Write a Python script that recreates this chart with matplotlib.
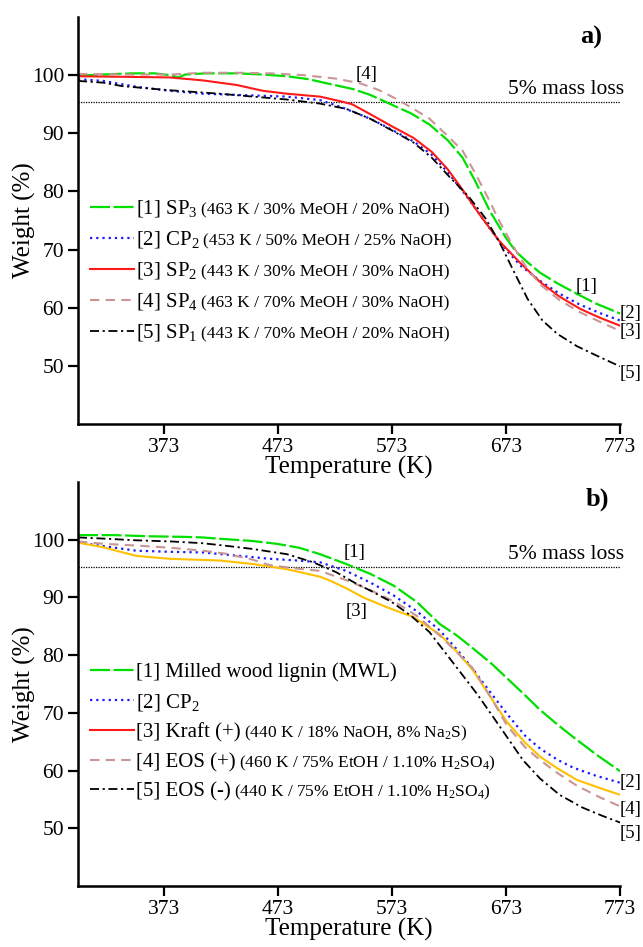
import matplotlib
matplotlib.use("Agg")
import matplotlib.pyplot as plt
from matplotlib.lines import Line2D

plt.rcParams['font.family'] = ['Liberation Serif', 'DejaVu Serif']
plt.rcParams['mathtext.fontset'] = 'custom'
plt.rcParams['mathtext.rm'] = 'Liberation Serif'
plt.rcParams['mathtext.it'] = 'Liberation Serif:italic'

# ---- panel a) data ----
T_sp3 = [298, 320, 345, 365, 378, 386, 392, 410, 437, 460, 481, 500, 518, 539, 554, 563, 573, 590, 606, 622, 635, 646, 659, 673, 682, 692, 703, 718, 735, 752, 773]
W_sp3 = [99.9, 100.1, 100.3, 100.3, 100.0, 99.6, 100.1, 100.3, 100.3, 100.1, 99.8, 99.3, 98.5, 97.6, 96.6, 95.8, 94.9, 93.4, 91.5, 88.8, 85.8, 81.8, 76.6, 72.0, 69.6, 67.8, 66.0, 64.2, 62.4, 60.7, 59.0]

T_cp2a = [298, 320, 349, 378, 407, 451, 481, 510, 530, 554, 573, 592, 608, 622, 636, 648, 660, 673, 686, 703, 720, 737, 755, 773]
W_cp2a = [99.3, 99.0, 98.0, 97.3, 96.8, 96.5, 96.3, 95.7, 94.4, 92.5, 90.6, 88.6, 86.3, 83.3, 79.8, 76.6, 73.3, 70.0, 67.2, 64.6, 62.4, 60.6, 59.1, 57.8]

T_sp2 = [298, 340, 378, 407, 437, 460, 481, 510, 528, 538, 553, 573, 592, 608, 622, 636, 650, 667, 685, 703, 720, 738, 755, 773]
W_sp2 = [99.8, 99.7, 99.6, 99.1, 98.3, 97.3, 96.8, 96.3, 95.5, 95.0, 93.4, 91.2, 89.2, 86.8, 83.8, 80.0, 76.0, 71.5, 67.8, 64.4, 61.9, 59.8, 58.3, 56.9]

T_sp4 = [298, 340, 380, 407, 440, 466, 495, 524, 545, 562, 577, 592, 606, 620, 635, 647, 658, 668, 678, 690, 703, 720, 737, 755, 773]
W_sp4 = [100.2, 100.1, 100.1, 100.4, 100.4, 100.3, 100.0, 99.4, 98.6, 97.4, 95.9, 94.2, 92.5, 89.9, 87.0, 82.8, 78.6, 74.6, 71.0, 67.2, 64.0, 61.3, 59.3, 57.6, 56.0]

T_sp1 = [298, 320, 337, 378, 422, 481, 510, 533, 554, 573, 592, 608, 624, 640, 655, 668, 680, 692, 705, 718, 735, 752, 773]
W_sp1 = [99.0, 98.7, 98.1, 97.4, 96.8, 95.8, 95.1, 94.2, 92.5, 90.5, 88.4, 85.8, 82.4, 79.2, 75.4, 71.0, 66.2, 61.5, 57.8, 55.5, 53.4, 51.8, 49.9]

# ---- panel b) data ----
T_mwl = [298, 330, 360, 390, 407, 427, 450, 472, 492, 510, 533, 554, 575, 595, 615, 630, 644, 660, 674, 690, 703, 718, 732, 752, 773]
W_mwl = [100.8, 100.8, 100.6, 100.5, 100.4, 100.1, 99.8, 99.3, 98.6, 97.5, 95.8, 94.1, 92.0, 89.2, 85.4, 83.4, 81.2, 78.6, 76.0, 73.0, 70.5, 68.0, 65.8, 62.8, 59.9]

T_cp2b = [298, 320, 349, 380, 407, 440, 466, 490, 510, 533, 554, 575, 595, 615, 630, 644, 660, 674, 690, 703, 718, 732, 752, 773]
W_cp2b = [99.5, 98.9, 98.1, 97.9, 97.8, 97.2, 96.7, 96.4, 96.1, 94.6, 92.6, 90.3, 87.6, 84.3, 81.0, 77.6, 73.4, 69.8, 66.0, 63.8, 61.9, 60.5, 59.1, 57.9]

T_kraft = [298, 320, 349, 378, 422, 451, 481, 510, 519, 533, 548, 570, 592, 615, 630, 644, 660, 674, 690, 703, 718, 735, 755, 773]
W_kraft = [99.5, 98.7, 97.2, 96.7, 96.4, 95.8, 94.9, 93.6, 92.9, 91.6, 90.0, 88.2, 86.6, 83.6, 80.6, 77.4, 72.6, 68.4, 64.8, 62.4, 60.4, 58.4, 57.0, 55.8]

T_eosp = [298, 320, 349, 380, 407, 427, 450, 466, 490, 510, 533, 554, 575, 595, 615, 630, 644, 660, 674, 690, 703, 718, 735, 755, 773]
W_eosp = [99.7, 99.3, 99.0, 98.6, 98.1, 97.6, 96.6, 95.6, 95.0, 94.6, 93.0, 91.3, 89.3, 86.8, 83.4, 80.5, 77.7, 72.6, 67.8, 64.0, 61.8, 59.6, 57.4, 55.4, 53.8]

T_eosm = [298, 320, 349, 380, 407, 430, 451, 481, 504, 524, 540, 554, 573, 590, 606, 620, 634, 648, 660, 674, 688, 703, 720, 740, 757, 773]
W_eosm = [100.4, 100.2, 99.9, 99.7, 99.4, 98.9, 98.4, 97.5, 96.1, 94.4, 92.6, 91.2, 89.2, 86.8, 84.0, 80.4, 76.8, 73.2, 69.8, 65.8, 61.8, 58.6, 55.8, 53.6, 52.2, 51.0]

labels_a = [r'[1] SP$_3$', r'[2] CP$_2$', r'[3] SP$_2$', r'[4] SP$_4$', r'[5] SP$_1$']
notes_a = ['(463 K / 30% MeOH / 20% NaOH)', '(453 K / 50% MeOH / 25% NaOH)',
           '(443 K / 30% MeOH / 30% NaOH)', '(463 K / 70% MeOH / 30% NaOH)',
           '(443 K / 70% MeOH / 20% NaOH)']
labels_b = ['[1] Milled wood lignin (MWL)', r'[2] CP$_2$', '[3] Kraft (+)', '[4] EOS (+)', '[5] EOS (-)']
notes_b = ['', '', r'(440 K / 18% NaOH, 8% Na$_2$S)',
           r'(460 K / 75% EtOH / 1.10% H$_2$SO$_4$)',
           r'(440 K / 75% EtOH / 1.10% H$_2$SO$_4$)']

xticks = [373, 473, 573, 673, 773]
yticks = [50, 60, 70, 80, 90, 100]

GREEN = '#00e000'
BLUE = '#1a1aff'
RED = '#ff1a1a'
ROSY = '#c99595'
ORANGE = '#ffc000'
styles = [
    dict(color=GREEN, lw=1.6, ls=(0, (9, 1.6))),
    dict(color=BLUE, lw=1.6, ls=(0, (1, 1.8))),
    dict(color=RED, lw=1.5, ls='-'),
    dict(color=ROSY, lw=1.5, ls=(0, (4.5, 3))),
    dict(color='black', lw=1.3, ls=(0, (5, 2, 1.2, 2))),
]

fig = plt.figure(figsize=(6.43, 9.47), dpi=100)
ax_a = fig.add_axes([0.1213, 0.5523, 0.843, 0.4298])
ax_b = fig.add_axes([0.1213, 0.0644, 0.843, 0.4266])


def style_axes(ax):
    ax.set_xlim(298, 773)
    ax.set_ylim(40, 110)
    for s in ['top', 'right']:
        ax.spines[s].set_visible(False)
    for s in ['left', 'bottom']:
        ax.spines[s].set_linewidth(1.8)
    ax.set_xticks(xticks)
    ax.set_yticks(yticks)
    ax.tick_params(direction='out', length=7, width=1.6, labelsize=15.5, pad=3)
    ax.set_xlabel('Temperature (K)', fontsize=18, labelpad=-1)
    ax.set_ylabel('Weight (%)', fontsize=18, labelpad=-3)
    ax.axhline(95.3, color='black', lw=0.9, ls=(0, (1, 1)), zorder=1)
    ax.text(777, 97.5, '5% mass loss', fontsize=15.5, ha='right', va='center', clip_on=False)


def add_legend(ax, labels, y_anchor):
    handles = [Line2D([], [], **st) for st in styles]
    leg = ax.legend(handles, labels, loc='upper left', bbox_to_anchor=(-0.005, y_anchor),
                    frameon=False, fontsize=15, handlelength=2.1, handletextpad=0.1,
                    labelspacing=0.48, borderaxespad=0.3)
    return leg


def add_notes(ax, leg, notes):
    for txt, note in zip(leg.get_texts(), notes):
        if not note:
            continue
        bb = txt.get_window_extent()
        y_base = txt.get_transform().transform(txt.get_position())[1]
        ax.annotate(note, xy=(bb.x1, y_base), xycoords='figure pixels', xytext=(2.5, 0),
                    textcoords='offset points', fontsize=12.5, ha='left', va='baseline')


# panel a)
style_axes(ax_a)
series_a = [(T_sp3, W_sp3), (T_cp2a, W_cp2a), (T_sp2, W_sp2), (T_sp4, W_sp4), (T_sp1, W_sp1)]
for (t, w), st in zip(series_a, styles):
    ax_a.plot(t, w, **st)
leg_a = add_legend(ax_a, labels_a, 0.59)
for txt, x, y in [('[4]', 551, 100.1), ('[1]', 744, 63.7), ('[2]', 782, 59.0),
                  ('[3]', 782, 55.9), ('[5]', 782, 48.7)]:
    ax_a.text(x, y, txt, fontsize=13.5, ha='center', va='center', clip_on=False)
ax_a.text(748, 106.5, 'a)', fontsize=19, fontweight='bold', ha='center', va='center')

# panel b)
style_axes(ax_b)
styles_b = [dict(s) for s in styles]
styles_b[2]['color'] = ORANGE
series_b = [(T_mwl, W_mwl), (T_cp2b, W_cp2b), (T_kraft, W_kraft), (T_eosp, W_eosp), (T_eosm, W_eosm)]
for (t, w), st in zip(series_b, styles_b):
    ax_b.plot(t, w, **st)
leg_b = add_legend(ax_b, labels_b, 0.59)
for txt, x, y in [('[1]', 540.5, 97.8), ('[3]', 542, 87.6), ('[2]', 782, 58.0),
                  ('[4]', 782, 53.2), ('[5]', 782, 49.1)]:
    ax_b.text(x, y, txt, fontsize=13.5, ha='center', va='center', clip_on=False)
ax_b.text(753, 107, 'b)', fontsize=19, fontweight='bold', ha='center', va='center')

# legend texts get their place on draw; then add the smaller notes after them
fig.canvas.draw()
add_notes(ax_a, leg_a, notes_a)
add_notes(ax_b, leg_b, notes_b)

fig.savefig('out.png', dpi=100)
